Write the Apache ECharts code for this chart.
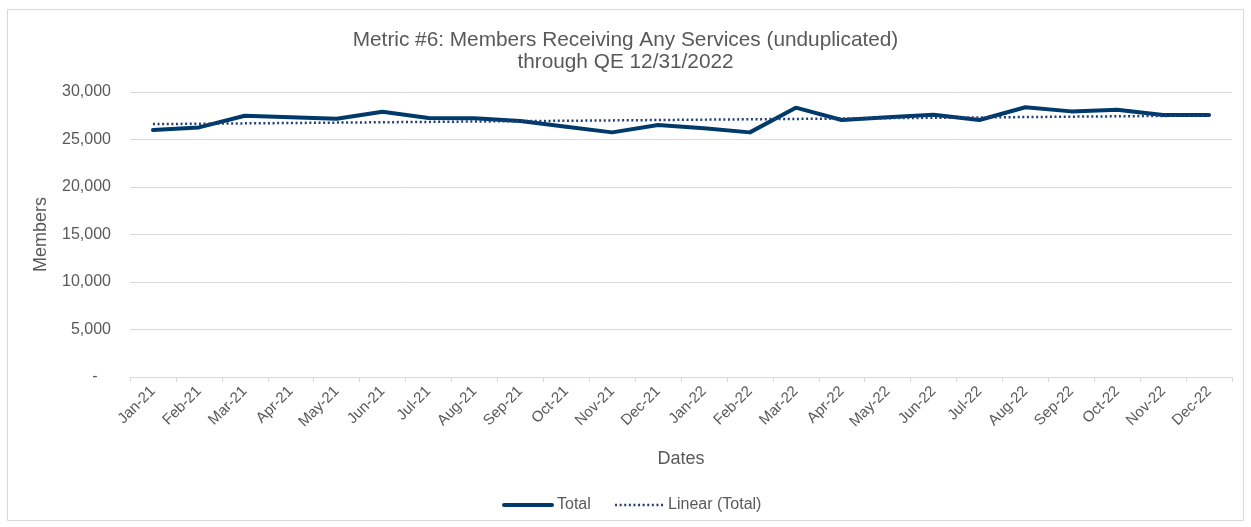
<!DOCTYPE html>
<html>
<head>
<meta charset="utf-8">
<script src="https://cdn.jsdelivr.net/npm/echarts@6/dist/echarts.min.js"></script>
<style>
  html, body { margin: 0; padding: 0; background: #fff; }
  #chart { width: 1251px; height: 527px; }
</style>
</head>
<body>
<div id="chart"></div>
<script>
const months = ['Jan-21', 'Feb-21', 'Mar-21', 'Apr-21', 'May-21', 'Jun-21', 'Jul-21', 'Aug-21', 'Sep-21', 'Oct-21', 'Nov-21', 'Dec-21',
  'Jan-22', 'Feb-22', 'Mar-22', 'Apr-22', 'May-22', 'Jun-22', 'Jul-22', 'Aug-22', 'Sep-22', 'Oct-22', 'Nov-22', 'Dec-22']
const totalMembers = [26000, 26270, 27500, 27350, 27190, 27930, 27260, 27230, 26950, 26350, 25750, 26530,
  26180, 25750, 28350, 27050, 27330, 27600, 27050, 28390, 27960, 28140, 27580, 27580]
// trendline end points
const trendPoints = [['Jan-21', 26620], ['Dec-22', 27520]]
const yTicks = [0, 5000, 10000, 15000, 20000, 25000, 30000]

const font = 'Liberation Sans, Arial, sans-serif'
const textColor = '#595959'
const navy = '#003a6b'
const trendColor = '#1f3f77'

const chart = echarts.init(document.getElementById('chart'))
const option = {
  animation: false,
  textStyle: { fontFamily: font },
  title: {
    text: 'Metric #6: Members Receiving Any Services (unduplicated)\nthrough QE 12/31/2022',
    left: 'center',
    top: 24,
    textStyle: { fontFamily: font, fontSize: 20.8, fontWeight: 'normal', color: textColor, lineHeight: 22 }
  },
  graphic: [{
    type: 'rect',
    shape: { x: 7.5, y: 9.5, width: 1236, height: 511 },
    style: { fill: 'none', stroke: '#d9d9d9', lineWidth: 1 },
    silent: true
  }],
  legend: {
    bottom: 9,
    left: 497,
    itemWidth: 48,
    itemHeight: 10,
    itemGap: 23,
    itemStyle: { opacity: 0 },
    textStyle: { fontFamily: font, fontSize: 16, color: textColor },
    data: [
      { name: 'Total', lineStyle: { width: 4 } },
      { name: 'Linear (Total)', lineStyle: { width: 2.5 } }
    ]
  },
  grid: { left: 130, right: 19, top: 92, bottom: 150 },
  xAxis: {
    type: 'category',
    data: months,
    boundaryGap: true,
    name: 'Dates',
    nameLocation: 'middle',
    nameGap: 73,
    nameTextStyle: { fontFamily: font, fontSize: 18, color: textColor },
    axisLine: { lineStyle: { color: '#d9d9d9' } },
    axisTick: { show: true, length: 5, lineStyle: { color: '#d9d9d9' } },
    axisLabel: { rotate: 45, fontSize: 15, color: textColor, margin: 12, interval: 0 }
  },
  yAxis: {
    type: 'value',
    min: yTicks[0],
    max: yTicks[yTicks.length - 1],
    interval: 5000,
    name: 'Members',
    nameLocation: 'middle',
    nameGap: 80,
    nameTextStyle: { fontFamily: font, fontSize: 18, color: textColor },
    axisLine: { show: false },
    axisTick: { show: false },
    splitLine: { lineStyle: { color: '#d9d9d9' } },
    axisLabel: {
      fontSize: 16,
      color: textColor,
      margin: 19,
      formatter: v => v === 0 ? '-   ' : v.toLocaleString('en-US')
    }
  },
  series: [
    {
      name: 'Total',
      type: 'line',
      data: totalMembers,
      symbol: 'none',
      lineStyle: { width: 4, color: navy, cap: 'round', join: 'round' },
      itemStyle: { color: navy }
    },
    {
      name: 'Linear (Total)',
      type: 'line',
      data: trendPoints,
      symbol: 'none',
      z: 3,
      lineStyle: { width: 2.5, color: trendColor, type: [2, 2.6] },
      itemStyle: { color: trendColor }
    }
  ]
}
chart.setOption(option)
</script>
</body>
</html>
